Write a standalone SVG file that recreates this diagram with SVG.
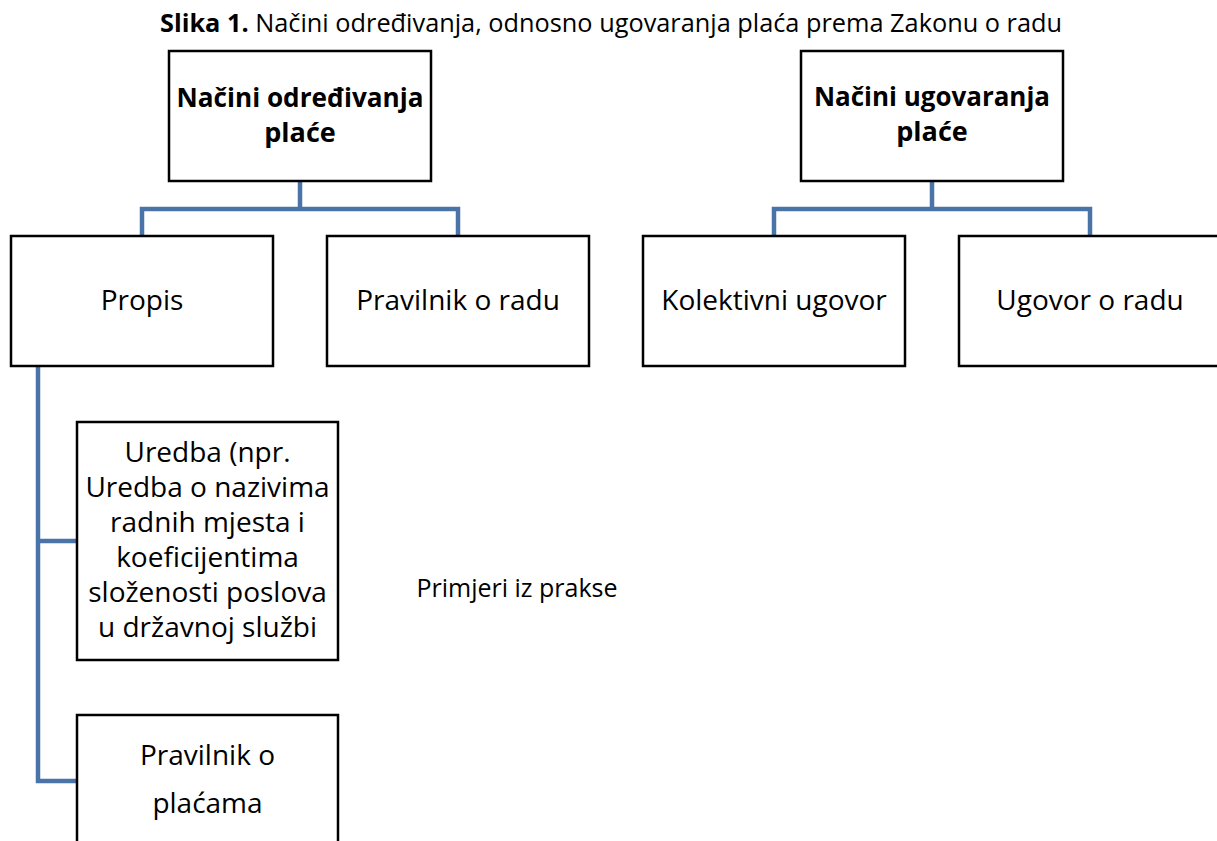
<svg xmlns="http://www.w3.org/2000/svg" width="1217" height="841" viewBox="0 0 1217 841">
<style>
.box{fill:#fff;stroke:#000;stroke-width:2.5}
.con{fill:none;stroke:#4A74A8;stroke-width:4.5;stroke-linejoin:miter}
text{font-family:"Open Sans","Liberation Sans",sans-serif;fill:#000;text-anchor:middle}
.t{font-size:28px}
.b{font-size:27px;font-weight:bold}
.cap{font-size:25px}
</style>
<rect width="1217" height="841" fill="#fff"/>
<text class="cap" x="611" y="32" textLength="902" lengthAdjust="spacingAndGlyphs"><tspan font-weight="bold">Slika 1.</tspan> Načini određivanja, odnosno ugovaranja plaća prema Zakonu o radu</text>
<g id="connectors">
<path class="con" d="M300 181V209M142 236V209H458V236"/>
<path class="con" d="M932 181V209M774 236V209H1090V236"/>
<path class="con" d="M38 366V781H77M38 541H77"/>
</g>
<g id="n-odredivanje"><rect class="box" x="169" y="51" width="262" height="130"/><text class="b" x="300" y="107" textLength="247" lengthAdjust="spacingAndGlyphs">Načini određivanja</text><text class="b" x="300" y="142">plaće</text></g>
<g id="n-ugovaranje"><rect class="box" x="801" y="51" width="262" height="130"/><text class="b" x="932" y="106" textLength="236" lengthAdjust="spacingAndGlyphs">Načini ugovaranja</text><text class="b" x="932" y="141">plaće</text></g>
<g id="n-propis"><rect class="box" x="11" y="236" width="262" height="130"/><text class="t" x="142" y="310">Propis</text></g>
<g id="n-pravilnik-rad"><rect class="box" x="327" y="236" width="262" height="130"/><text class="t" x="458" y="310">Pravilnik o radu</text></g>
<g id="n-kolektivni"><rect class="box" x="643" y="236" width="262" height="130"/><text class="t" x="774" y="310">Kolektivni ugovor</text></g>
<g id="n-ugovor-rad"><rect class="box" x="959" y="236" width="262" height="130"/><text class="t" x="1090" y="310">Ugovor o radu</text></g>
<g id="n-uredba"><rect class="box" x="77" y="422" width="261" height="238"/>
<text class="t" x="207.5" y="462">Uredba (npr.</text>
<text class="t" x="207.5" y="497">Uredba o nazivima</text>
<text class="t" x="207.5" y="532">radnih mjesta i</text>
<text class="t" x="207.5" y="567">koeficijentima</text>
<text class="t" x="207.5" y="602">složenosti poslova</text>
<text class="t" x="207.5" y="637">u državnoj službi</text></g>
<g id="n-pravilnik-place"><rect class="box" x="77" y="715" width="261" height="170"/><text class="t" x="207.5" y="765">Pravilnik o</text><text class="t" x="207.5" y="813">plaćama</text></g>
<text class="cap" x="517" y="597">Primjeri iz prakse</text>
</svg>
